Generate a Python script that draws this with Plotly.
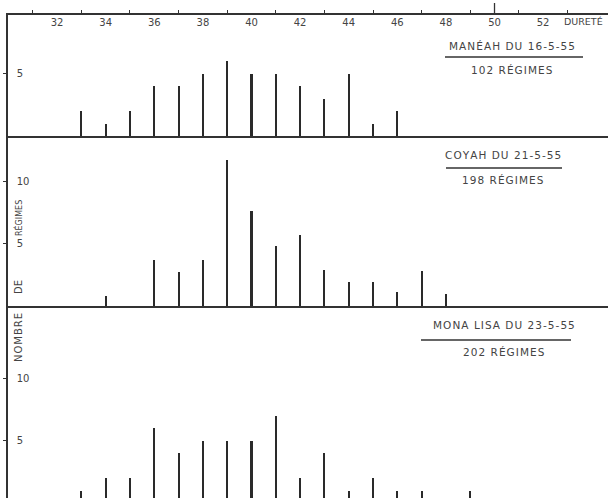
import plotly.graph_objects as go

# ---- data ----
durete_1 = [33, 34, 35, 36, 37, 38, 39, 40, 41, 42, 43, 44, 45, 46]
nombre_1 = [2, 1, 2, 4, 4, 5, 6, 5, 5, 4, 3, 5, 1, 2]

durete_2 = [34, 36, 37, 38, 39, 40, 41, 42, 43, 44, 45, 46, 47, 48]
nombre_2 = [0.8, 3.7, 2.7, 3.7, 11.7, 7.6, 4.8, 5.7, 2.9, 1.9, 1.9, 1.1, 2.8, 1.0]

durete_3 = [33, 34, 35, 36, 37, 38, 39, 40, 41, 42, 43, 44, 45, 46, 47, 49]
nombre_3 = [1, 2, 2, 6, 4, 5, 5, 5, 7, 2, 4, 1, 2, 1, 1, 1]

x_ticks = [32, 34, 36, 38, 40, 42, 44, 46, 48, 50, 52]
titles = ["MANÉAH DU 16-5-55", "COYAH DU 21-5-55", "MONA LISA DU 23-5-55"]
subtitles = ["102 RÉGIMES", "198 RÉGIMES", "202 RÉGIMES"]

INK = "#333333"
TXT = "#444444"
FONT = "DejaVu Sans"
XR = [29.98, 54.67]
BARW = 0.085


def spaced(s):
    # hand lettering is widely spaced: join letters with hair spaces
    return "\u200a".join(s)


fig = go.Figure()
for xs, ys, xa, ya in [(durete_1, nombre_1, "x", "y"),
                       (durete_2, nombre_2, "x2", "y2"),
                       (durete_3, nombre_3, "x3", "y3")]:
    fig.add_trace(go.Bar(x=xs, y=ys, width=BARW, marker=dict(color="#2a2a2a", line=dict(width=0)),
                         xaxis=xa, yaxis=ya, showlegend=False))

dom3 = [0.0, 0.3975]
dom2 = [0.3975, 0.7495]
dom1 = [0.7495, 1.0]

common_x = dict(range=XR, showgrid=False, zeroline=False, linecolor=INK, linewidth=1.5)
ytick = dict(showgrid=False, zeroline=False, showline=True, linecolor=INK, linewidth=1.5,
             ticks="outside", ticklen=3, tickcolor=INK,
             ticklabelposition="inside", ticklabelstandoff=8,
             tickfont=dict(size=10, color=TXT))
fig.update_layout(
    width=608, height=498,
    margin=dict(l=8, r=0, t=15, b=0),
    paper_bgcolor="white", plot_bgcolor="white",
    font=dict(family=FONT, color=INK),
    bargap=0,
    xaxis=dict(**common_x, anchor="y", side="top", showline=True, mirror=True,
               tickvals=x_ticks, ticktext=[str(v) for v in x_ticks],
               ticklabelposition="inside", ticks="", ticklabelstandoff=3,
               tickfont=dict(size=10, color=TXT),
               minor=dict(tickvals=list(range(31, 55, 2)), ticks="outside", ticklen=3,
                          tickcolor=INK, tickwidth=1)),
    xaxis2=dict(**common_x, anchor="y2", showline=True, showticklabels=False, ticks=""),
    xaxis3=dict(**common_x, anchor="y3", showline=False, showticklabels=False, ticks=""),
    yaxis=dict(domain=dom1, range=[0, 9.72], anchor="x", tickvals=[5], **ytick),
    yaxis2=dict(domain=dom2, range=[0, 13.65], anchor="x2", tickvals=[5, 10], **ytick),
    yaxis3=dict(domain=dom3, range=[0.4, 15.82], anchor="x3", tickvals=[5, 10], **ytick),
)


def pap(py):
    return (498 - py) / 483.0


def dx(px):
    return XR[0] + (px - 8) / 600.0 * (XR[1] - XR[0])


annots = []
annots.append(dict(x=dx(583), y=pap(22), xref="x", yref="paper", text="DURETÉ",
                   xanchor="center", yanchor="middle",
                   showarrow=False, font=dict(size=9.5, color=TXT)))

# panel labels
label_pos = [
    (512, 46, 57, 445, 583, 70),
    (503, 155, 168, 446, 562, 180),
    (504, 325, 340, 421, 571, 352),
]
shapes = []
for (cx, ty, ly, lx0, lx1, sy), t, s in zip(label_pos, titles, subtitles):
    annots.append(dict(x=dx(cx), y=pap(ty), xref="x", yref="paper", text=spaced(t), showarrow=False,
                       xanchor="center", yanchor="middle", font=dict(size=10.5, color=TXT)))
    annots.append(dict(x=dx(cx), y=pap(sy), xref="x", yref="paper", text=spaced(s), showarrow=False,
                       xanchor="center", yanchor="middle", font=dict(size=10.5, color=TXT)))
    shapes.append(dict(type="line", xref="x", yref="paper", x0=dx(lx0), x1=dx(lx1),
                       y0=pap(ly), y1=pap(ly), line=dict(color=INK, width=1.3)))

# tall tick at 50 above the top frame
shapes.append(dict(type="line", xref="x", yref="paper", x0=50, x1=50, y0=1.0, y1=pap(3),
                   line=dict(color=INK, width=1.3)))

# vertical y-axis title words
for word, py, sz, sp in [("NOMBRE", 338, 10, True), ("DE", 287, 10, False), ("RÉGIMES", 218, 8, False)]:
    annots.append(dict(x=(18 - 8) / 600.0, y=pap(py), xref="paper", yref="paper",
                       text=spaced(word) if sp else word,
                       xanchor="center", yanchor="middle",
                       showarrow=False, textangle=-90, font=dict(size=sz, color=TXT)))

fig.update_layout(annotations=annots, shapes=shapes)
fig.write_html("out.html")
